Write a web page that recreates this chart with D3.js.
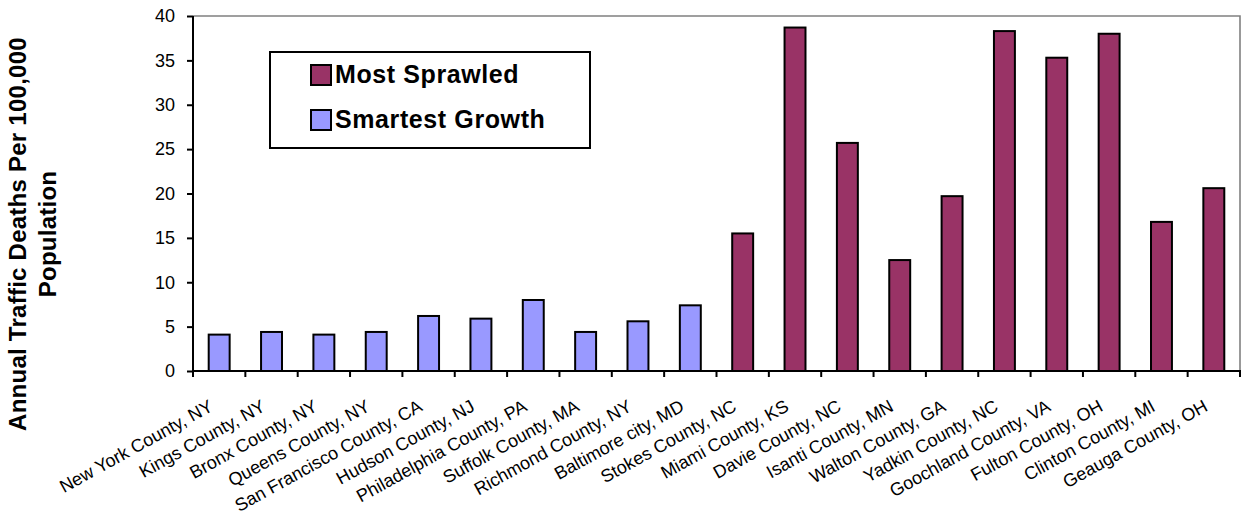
<!DOCTYPE html>
<html>
<head>
<meta charset="utf-8">
<script src="https://cdn.jsdelivr.net/npm/d3@7"></script>
<style>
  html, body { margin: 0; padding: 0; background: #fff; }
  svg { display: block; font-family: Arial, "Liberation Sans", sans-serif; }
</style>
</head>
<body>
<svg id="chart" width="1242" height="518"></svg>
<script>
// Counties, smartest-growth group first, then most sprawled
const counties = [
  "New York County, NY", "Kings County, NY", "Bronx County, NY", "Queens County, NY",
  "San Francisco County, CA", "Hudson County, NJ", "Philadelphia County, PA",
  "Suffolk County, MA", "Richmond County, NY", "Baltimore city, MD",
  "Stokes County, NC", "Miami County, KS", "Davie County, NC", "Isanti County, MN",
  "Walton County, GA", "Yadkin County, NC", "Goochland County, VA", "Fulton County, OH",
  "Clinton County, MI", "Geauga County, OH"
];
const groups = [
  "Smartest Growth", "Smartest Growth", "Smartest Growth", "Smartest Growth",
  "Smartest Growth", "Smartest Growth", "Smartest Growth", "Smartest Growth",
  "Smartest Growth", "Smartest Growth",
  "Most Sprawled", "Most Sprawled", "Most Sprawled", "Most Sprawled", "Most Sprawled",
  "Most Sprawled", "Most Sprawled", "Most Sprawled", "Most Sprawled", "Most Sprawled"
];
// Annual traffic deaths per 100,000 population
const deaths = [
  4.1, 4.4, 4.1, 4.4, 6.2, 5.9, 8.0, 4.4, 5.6, 7.4,
  15.5, 38.7, 25.7, 12.5, 19.7, 38.3, 35.3, 38.0, 16.8, 20.6
];
const yTicks = [0, 5, 10, 15, 20, 25, 30, 35, 40];
const legendOrder = ["Most Sprawled", "Smartest Growth"];
const groupColors = ["#993366", "#9999FF"];

const svg = d3.select("#chart");
const plot = { left: 193, right: 1240, top: 16, bottom: 371 };

const x = d3.scaleBand()
  .domain(counties)
  .range([plot.left, plot.right])
  .paddingInner(0.6)
  .paddingOuter(0.3);

const y = d3.scaleLinear()
  .domain([0, 40])
  .range([plot.bottom, plot.top]);

const color = d3.scaleOrdinal().domain(legendOrder).range(groupColors);

// top and right frame of the plot area
svg.append("path")
  .attr("d", `M${plot.left},${y(40)}H${plot.right}V${plot.bottom}`)
  .attr("fill", "none")
  .attr("stroke", "#808080")
  .attr("stroke-width", 1.6);

// bars
svg.append("g")
  .selectAll("rect")
  .data(counties)
  .join("rect")
  .attr("x", d => x(d))
  .attr("width", x.bandwidth())
  .attr("y", (d, i) => y(deaths[i]))
  .attr("height", (d, i) => y(0) - y(deaths[i]))
  .attr("fill", (d, i) => color(groups[i]))
  .attr("stroke", "#000")
  .attr("stroke-width", 2);

// y axis
const yAxis = svg.append("g")
  .attr("transform", `translate(${plot.left},0)`)
  .call(d3.axisLeft(y).tickValues(yTicks).tickSize(6).tickPadding(12));
yAxis.select(".domain").attr("stroke", "#000").attr("stroke-width", 2)
  .attr("d", `M0,${y(40)}V${y(0)}`);
yAxis.selectAll(".tick line").attr("stroke", "#000").attr("stroke-width", 2);
yAxis.selectAll(".tick text")
  .attr("font-size", 18)
  .attr("font-family", "Arial, 'Liberation Sans', sans-serif")
  .attr("fill", "#000");

// x axis: ticks sit on category boundaries
const step = x.step();
const boundaries = d3.range(counties.length + 1).map(i => plot.left + i * step);
const xAxis = svg.append("g");
xAxis.append("line")
  .attr("x1", plot.left - 1).attr("x2", plot.right + 1)
  .attr("y1", y(0)).attr("y2", y(0))
  .attr("stroke", "#000").attr("stroke-width", 2);
xAxis.selectAll("line.tick")
  .data(boundaries)
  .join("line")
  .attr("class", "tick")
  .attr("x1", d => d).attr("x2", d => d)
  .attr("y1", y(0)).attr("y2", y(0) + 6)
  .attr("stroke", "#000").attr("stroke-width", 2);

xAxis.selectAll("text")
  .data(counties)
  .join("text")
  .attr("transform", d => `translate(${x(d) + x.bandwidth() / 2 - 5},${y(0) + 39}) rotate(-29)`)
  .attr("text-anchor", "end")
  .attr("font-size", 18)
  .attr("fill", "#000")
  .text(d => d);

// y axis title, two lines
const yTitle = svg.append("text")
  .attr("transform", "translate(0,234) rotate(-90)")
  .attr("text-anchor", "middle")
  .attr("font-size", 24)
  .attr("font-weight", "bold")
  .attr("letter-spacing", 0.25)
  .attr("fill", "#000");
yTitle.append("tspan").attr("x", 0).attr("y", 26).text("Annual Traffic Deaths Per 100,000");
yTitle.append("tspan").attr("x", 0).attr("y", 56).text("Population");

// legend
const legend = svg.append("g");
legend.append("rect")
  .attr("x", 270).attr("y", 52).attr("width", 320).attr("height", 96)
  .attr("fill", "#fff").attr("stroke", "#000").attr("stroke-width", 2);
const items = legend.selectAll("g.item")
  .data(legendOrder)
  .join("g")
  .attr("class", "item")
  .attr("transform", (d, i) => `translate(311,${65 + i * 45})`);
items.append("rect")
  .attr("width", 20).attr("height", 20)
  .attr("fill", d => color(d))
  .attr("stroke", "#000").attr("stroke-width", 2);
items.append("text")
  .attr("x", 24).attr("y", 18)
  .attr("font-size", 25)
  .attr("font-weight", "bold")
  .attr("letter-spacing", 0.6)
  .attr("fill", "#000")
  .text(d => d);
</script>
</body>
</html>
